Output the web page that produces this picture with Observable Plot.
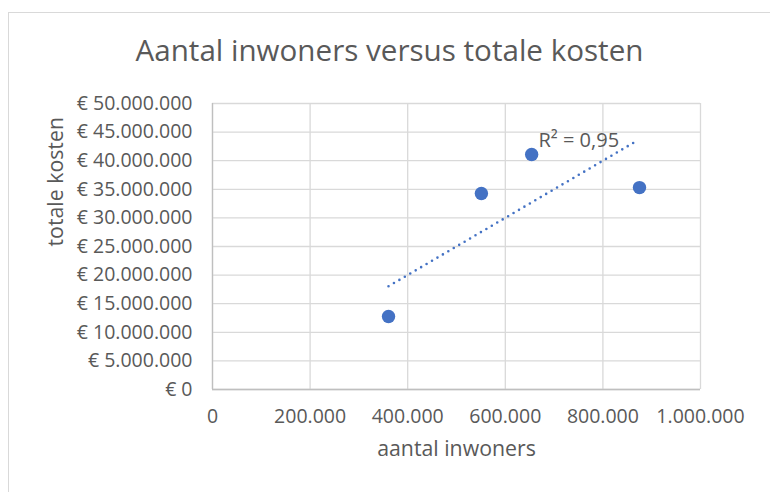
<!DOCTYPE html>
<html>
<head>
<meta charset="utf-8">
<script src="https://cdn.jsdelivr.net/npm/d3@7"></script>
<script src="https://cdn.jsdelivr.net/npm/@observablehq/plot@0.6"></script>
<style>
  html, body { margin: 0; padding: 0; background: #fff; }
  #wrap { position: relative; width: 770px; height: 492px; overflow: hidden; font-family: "Open Sans", sans-serif; }
  #border { position: absolute; left: 8px; top: 12px; width: 800px; height: 520px; border: 1px solid #D9D9D9; box-sizing: border-box; }
  #title { position: absolute; left: 0; width: 779px; top: 31px; text-align: center; font-size: 29.6px; color: #595959; line-height: 38px; white-space: nowrap; }
  #chart { position: absolute; left: 0; top: 0; }
</style>
</head>
<body>
<div id="wrap">
  <div id="border"></div>
  <div id="chart"></div>
  <div id="title">Aantal inwoners versus totale kosten</div>
</div>
<script>
// Data
const inwoners = [360700, 551000, 654000, 875000];
const kosten = [12760000, 34270000, 41080000, 35300000];
// Trendline endpoints as drawn in the reference
const trendX = [360700, 870000];
const trendY = [18050000, 43500000];
const r2Label = "R² = 0,95";
const r2Pos = [668000, 43600000];
const xTicks = [0, 200000, 400000, 600000, 800000, 1000000];
const yTicks = [0, 5e6, 10e6, 15e6, 20e6, 25e6, 30e6, 35e6, 40e6, 45e6, 50e6];

const nl = d3.formatLocale({decimal: ",", thousands: ".", grouping: [3], currency: ["€ ", ""]});
const fmt = nl.format(",.0f");

const points = inwoners.map((x, i) => ({x, y: kosten[i]}));
const trend = trendX.map((x, i) => ({x, y: trendY[i]}));

const text = "#595959";
const grid = "#D9D9D9";

const plot = Plot.plot({
  width: 770,
  height: 492,
  marginLeft: 212,
  marginRight: 70,
  marginTop: 103,
  marginBottom: 103,
  style: {fontFamily: "Open Sans, sans-serif", fontSize: "19.5px", color: text, background: "transparent", overflow: "visible"},
  x: {domain: [0, 1e6], ticks: xTicks, tickFormat: fmt, label: null},
  y: {domain: [0, 5e7], ticks: yTicks, tickFormat: d => "€ " + fmt(d), label: null},
  marks: [
    Plot.gridX(xTicks, {stroke: grid, strokeOpacity: 1, strokeWidth: 1.3}),
    Plot.gridY(yTicks, {stroke: grid, strokeOpacity: 1, strokeWidth: 1.3}),
    Plot.ruleY([0], {stroke: "#BFBFBF", strokeWidth: 1.3}),
    Plot.ruleX([0], {stroke: "#BFBFBF", strokeWidth: 1.3}),
    Plot.axisX({ticks: xTicks, tickFormat: fmt, tickSize: 0, tickPadding: 20, fill: text, fontSize: 19.5, label: null}),
    Plot.axisY({ticks: yTicks, tickFormat: d => "€ " + fmt(d), tickSize: 0, tickPadding: 20, fill: text, fontSize: 19.5, label: null}),
    Plot.line(trend, {x: "x", y: "y", stroke: "#4472C4", strokeWidth: 2.6, strokeDasharray: "0,6.3", strokeLinecap: "round"}),
    Plot.dot(points, {x: "x", y: "y", r: 6.7, fill: "#4472C4", stroke: "none"}),
    Plot.text([r2Label], {x: () => r2Pos[0], y: () => r2Pos[1], text: d => d, fill: text, fontSize: 20, textAnchor: "start", lineAnchor: "middle"}),
    Plot.text(["aantal inwoners"], {frameAnchor: "bottom", dy: 66, text: d => d, fill: text, fontSize: 21.3}),
    Plot.text(["totale kosten"], {frameAnchor: "left", dx: -156, rotate: -90, text: d => d, fill: text, fontSize: 21.3})
  ]
});
document.getElementById("chart").appendChild(plot);
</script>
</body>
</html>
